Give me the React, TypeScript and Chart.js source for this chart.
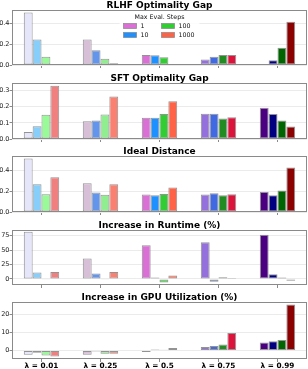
import React, { useEffect, useRef } from 'react';
import { Chart, registerables } from 'chart.js';

Chart.register(...registerables);

// ---------- data ----------
const categories = ['λ = 0.01', 'λ = 0.25', 'λ = 0.5', 'λ = 0.75', 'λ = 0.99'];
const stepLabels = ['1', '10', '100', '1000'];

// colours per series (max eval steps), one per λ category
const steps1Colors = ['#E6E6FA', '#D8BFD8', '#DA70D6', '#9370DB', '#4B0082'];
const steps10Colors = ['#87CEFA', '#6495ED', '#1E90FF', '#4169E1', '#000080'];
const steps100Colors = ['#98FB98', '#90EE90', '#32CD32', '#228B22', '#006400'];
const steps1000Colors = ['#F08080', '#FA8072', '#FF6347', '#DC143C', '#8B0000'];
const seriesColors = [steps1Colors, steps10Colors, steps100Colors, steps1000Colors];

// each metric: one row per series (1, 10, 100, 1000 steps), one value per λ
const rlhfOptimalityGap = [
  [0.506, 0.246, 0.096, 0.054, 0.006],
  [0.246, 0.141, 0.093, 0.080, 0.045],
  [0.080, 0.061, 0.074, 0.096, 0.166],
  [0.010, 0.016, 0.006, 0.096, 0.416],
];
const sftOptimalityGap = [
  [0.043, 0.110, 0.132, 0.156, 0.193],
  [0.079, 0.114, 0.132, 0.156, 0.154],
  [0.150, 0.152, 0.154, 0.126, 0.114],
  [0.329, 0.262, 0.233, 0.134, 0.077],
];
const idealDistance = [
  [0.510, 0.274, 0.167, 0.167, 0.192],
  [0.265, 0.186, 0.161, 0.180, 0.161],
  [0.170, 0.164, 0.173, 0.161, 0.205],
  [0.331, 0.265, 0.233, 0.170, 0.425],
];
const runtimeIncrease = [
  [81.8, 35.5, 58.4, 63.5, 76.7],
  [10.9, 9.2, 2.3, -5.1, 8.0],
  [-1.7, -1.7, -6.3, 2.9, 2.3],
  [12.0, 12.0, 5.7, 1.7, -3.4],
];
const gpuUtilIncrease = [
  [-2.4, -2.4, -0.9, 1.85, 4.4],
  [-1.3, -0.6, 0.55, 2.4, 5.0],
  [-2.8, -1.85, 0.37, 3.3, 5.7],
  [-3.3, -1.85, 1.3, 9.6, 25.2],
];

const panelTitles = [
  'RLHF Optimality Gap',
  'SFT Optimality Gap',
  'Ideal Distance',
  'Increase in Runtime (%)',
  'Increase in GPU Utilization (%)',
];
const panelValues = [rlhfOptimalityGap, sftOptimalityGap, idealDistance, runtimeIncrease, gpuUtilIncrease];
const panelMin = [0, 0, 0, -10.6, -4.7];
const panelMax = [0.53, 0.346, 0.535, 84.8, 26.6];
const panelTicks = [
  [0, 0.2, 0.4],
  [0, 0.1, 0.2, 0.3],
  [0, 0.2, 0.4],
  [0, 25, 50, 75],
  [0, 10, 20],
];
const panelDecimals = [1, 1, 1, 0, 0];

// ---------- layout ----------
const FONT = 'DejaVu Sans';
const panelTop = [0, 73, 146, 220, 292];
const panelHeight = [73, 73, 74, 72, 77];
const panelXHeight = [8, 7, 8, 7, 10];

const framePlugin = {
  id: 'frame',
  afterDraw(chart: any) {
    const { ctx, chartArea } = chart;
    const l = Math.round(chartArea.left) + 0.5;
    const t = Math.round(chartArea.top) + 0.5;
    const r = Math.round(chartArea.right) - 0.5;
    const b = Math.round(chartArea.bottom) - 0.5;
    ctx.save();
    ctx.strokeStyle = '#8a8a8a';
    ctx.lineWidth = 1;
    ctx.strokeRect(l, t, r - l, b - t);
    ctx.restore();
  },
};

const legendPlugin = {
  id: 'stepsLegend',
  afterDatasetsDraw(chart: any) {
    const { ctx, chartArea } = chart;
    const cx = (chartArea.left + chartArea.right) / 2;
    const top = chartArea.top;
    ctx.save();
    ctx.fillStyle = 'rgba(255,255,255,0.85)';
    ctx.fillRect(cx - 40, top + 2, 80, 29);
    ctx.fillStyle = '#111';
    ctx.font = `6.3px "${FONT}"`;
    ctx.textAlign = 'center';
    ctx.textBaseline = 'middle';
    ctx.fillText('Max Eval. Steps', cx, top + 7);
    ctx.textAlign = 'left';
    const ds = chart.data.datasets;
    ds.forEach((d: any, i: number) => {
      const col = Math.floor(i / 2);
      const row = i % 2;
      const px = cx - 36 + col * 38;
      const py = top + 16 + row * 9;
      ctx.fillStyle = d.backgroundColor[2];
      ctx.fillRect(px, py - 2.5, 13, 5);
      ctx.strokeStyle = 'rgba(128,128,128,0.8)';
      ctx.lineWidth = 0.8;
      ctx.strokeRect(px, py - 2.5, 13, 5);
      ctx.fillStyle = '#111';
      ctx.fillText(d.label, px + 17, py + 0.5);
    });
    ctx.restore();
  },
};

function Panel({ index }: { index: number }) {
  const ref = useRef<HTMLCanvasElement | null>(null);
  useEffect(() => {
    if (!ref.current) return;
    const values = panelValues[index];
    const tickVals = panelTicks[index];
    const decimals = panelDecimals[index];
    const showX = index === panelTitles.length - 1;
    const chart = new Chart(ref.current, {
      type: 'bar',
      data: {
        labels: categories,
        datasets: stepLabels.map((label, i) => ({
          label,
          data: values[i],
          backgroundColor: seriesColors[i],
          borderColor: 'rgba(128,128,128,0.85)',
          borderWidth: 1,
          borderSkipped: false,
          categoryPercentage: 0.6,
          barPercentage: 1.0,
        })),
      },
      options: {
        animation: false,
        responsive: false,
        maintainAspectRatio: false,
        events: [],
        layout: { padding: { left: 0, right: 1, top: 0, bottom: 0 }, autoPadding: false },
        plugins: {
          legend: { display: false },
          tooltip: { enabled: false },
          title: {
            display: true,
            text: panelTitles[index],
            fullSize: false,
            color: '#000',
            font: { family: FONT, size: 9, weight: 'bold', lineHeight: '9px' },
            padding: { top: 1, bottom: 0 },
          },
        },
        scales: {
          x: {
            type: 'category',
            offset: true,
            grid: {
              offset: false,
              drawOnChartArea: false,
              drawTicks: true,
              tickLength: 3,
              tickColor: '#8a8a8a',
            },
            border: { display: false },
            ticks: {
              display: showX,
              autoSkip: false,
              maxRotation: 0,
              padding: 0,
              color: '#000',
              font: { family: FONT, size: 7.3, weight: 'bold' },
            },
            afterFit: (s: any) => {
              s.height = panelXHeight[index];
            },
          },
          y: {
            min: panelMin[index],
            max: panelMax[index],
            afterBuildTicks: (s: any) => {
              s.ticks = tickVals.map((v) => ({ value: v }));
            },
            grid: {
              color: '#ebebeb',
              tickColor: '#8a8a8a',
              tickLength: 2.5,
              drawTicks: true,
            },
            border: { display: false },
            ticks: {
              padding: 0,
              color: '#222',
              font: { family: FONT, size: 6.5 },
              callback: (v: any) => Number(v).toFixed(decimals),
            },
            afterFit: (s: any) => {
              s.width = 12;
            },
          },
        },
      } as any,
      plugins: index === 0 ? [framePlugin, legendPlugin] : [framePlugin],
    });
    return () => chart.destroy();
  }, [index]);
  return (
    <canvas
      ref={ref}
      width={308}
      height={panelHeight[index]}
      style={{ position: 'absolute', left: 0, top: panelTop[index], display: 'block' }}
    />
  );
}

export default function App() {
  return (
    <div style={{ position: 'absolute', left: 0, top: 0, width: 308, height: 369, background: '#fff', overflow: 'hidden' }}>
      {panelTitles.map((_, i) => (
        <Panel key={i} index={i} />
      ))}
    </div>
  );
}
